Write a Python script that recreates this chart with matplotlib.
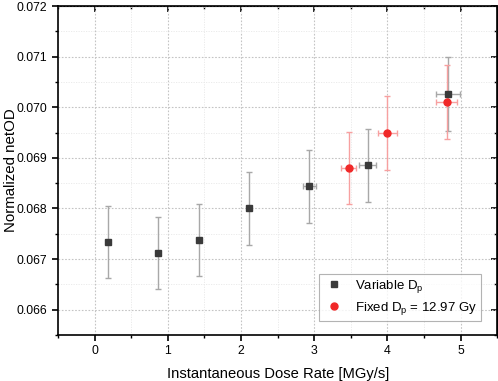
import matplotlib
matplotlib.use("Agg")
import matplotlib.pyplot as plt
from matplotlib.lines import Line2D
from matplotlib.ticker import MultipleLocator

plt.rcParams["font.family"] = ["Liberation Sans", "DejaVu Sans"]

# variable prescribed dose
var_rate = [0.18, 0.86, 1.42, 2.11, 2.93, 3.73, 4.83]
var_rate_err = [0.0, 0.0, 0.0, 0.03, 0.09, 0.12, 0.16]
var_od = [0.06733, 0.06712, 0.06738, 0.06800, 0.06844, 0.06885, 0.07026]
var_od_err = [0.00071, 0.00071, 0.00071, 0.00072, 0.00072, 0.00072, 0.00073]

# fixed prescribed dose 12.97 Gy
fix_rate = [3.47, 4.00, 4.81]
fix_rate_err = [0.10, 0.13, 0.14]
fix_od = [0.06880, 0.06949, 0.07010]
fix_od_err = [0.00072, 0.00073, 0.00073]

gray, gray_err = "#3a3a3a", "#a8a8a8"
red, red_err = "#f02828", "#f7a0a0"

fig = plt.figure(figsize=(4.98, 3.81), dpi=100)
ax = fig.add_axes([0.1165, 0.121, 0.882, 0.863])

ax.errorbar(var_rate, var_od, xerr=var_rate_err, yerr=var_od_err, fmt="s",
            color=gray, ms=4.5, ecolor=gray_err, elinewidth=1.0,
            capsize=2.3, capthick=1.0, zorder=3)
ax.errorbar(fix_rate, fix_od, xerr=fix_rate_err, yerr=fix_od_err, fmt="o",
            color=red, ms=5, ecolor=red_err, elinewidth=1.0,
            capsize=2.3, capthick=1.0, zorder=3)

ax.set_xlim(-0.5, 5.5)
ax.set_ylim(0.0655, 0.072)
ax.xaxis.set_major_locator(MultipleLocator(1))
ax.xaxis.set_minor_locator(MultipleLocator(0.5))
ax.yaxis.set_major_locator(MultipleLocator(0.001))
ax.yaxis.set_minor_locator(MultipleLocator(0.0005))
ax.yaxis.set_major_formatter(lambda v, p: f"{v:.3f}")

ax.grid(which="major", color="#c4c4c4", linestyle=(0, (1.5, 1.5)), linewidth=0.8)
ax.grid(which="minor", color="#e8e8e8", linestyle=(0, (1.5, 1.5)), linewidth=0.6)
ax.set_axisbelow(True)

for s in ax.spines.values():
    s.set_linewidth(1.2)
ax.tick_params(which="major", direction="out", length=4, width=1.2, labelsize=8.8)
ax.tick_params(which="minor", direction="out", length=2.5, width=1.0)

# mirrored ticks on top / right, pointing in
top = ax.secondary_xaxis("top")
top.xaxis.set_major_locator(MultipleLocator(1))
top.xaxis.set_minor_locator(MultipleLocator(0.5))
top.tick_params(which="major", direction="in", length=4, width=1.2, labeltop=False)
top.tick_params(which="minor", direction="in", length=2.5, width=1.0)
right = ax.secondary_yaxis("right")
right.yaxis.set_major_locator(MultipleLocator(0.001))
right.yaxis.set_minor_locator(MultipleLocator(0.0005))
right.tick_params(which="major", direction="in", length=4, width=1.2, labelright=False)
right.tick_params(which="minor", direction="in", length=2.5, width=1.0)

ax.set_xlabel("Instantaneous Dose Rate [MGy/s]", fontsize=10.6, labelpad=7)
ax.set_ylabel("Normalized netOD", fontsize=10.8)
ax.yaxis.set_label_coords(-0.091, 0.5)

handles = [
    Line2D([], [], marker="s", ls="none", color=gray, ms=4.5),
    Line2D([], [], marker="o", ls="none", color=red, ms=5),
]
labels = ["Variable D$_\\mathregular{p}$", "Fixed D$_\\mathregular{p}$ = 12.97 Gy"]
leg = ax.legend(handles, labels, loc="lower right", bbox_to_anchor=(0.963, 0.043),
                borderaxespad=0, fontsize=9.5, frameon=True, fancybox=False,
                edgecolor="#a0a0a0", handlelength=1.7, handletextpad=0.7,
                borderpad=0.3, labelspacing=0.4)
leg.get_frame().set_linewidth(0.8)

fig.savefig("out.png", dpi=100)
